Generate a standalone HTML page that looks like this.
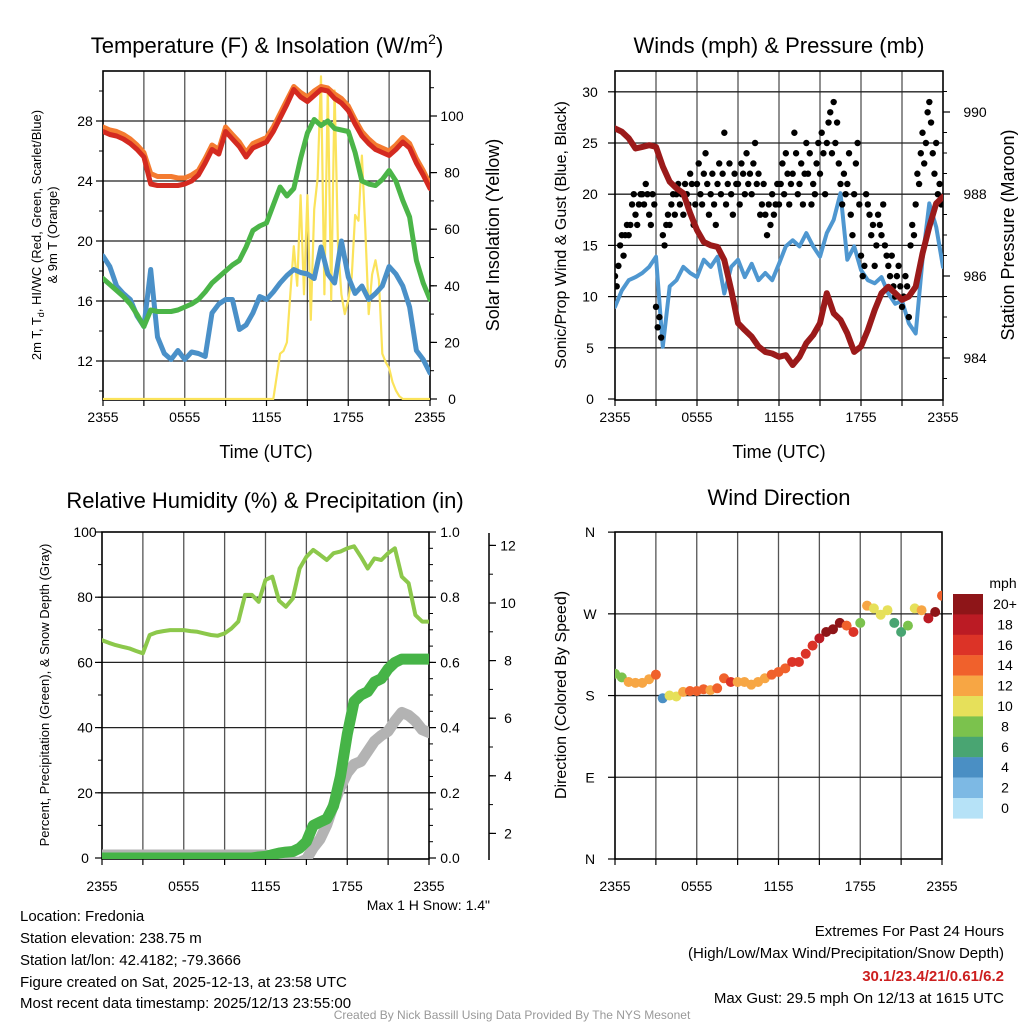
<!DOCTYPE html>
<html><head><meta charset="utf-8"><style>
body{margin:0;background:#fff}
svg{display:block;font-family:"Liberation Sans",Arial,sans-serif}
</style></head><body>
<svg id="fig" width="1024" height="1024" viewBox="0 0 1024 1024" xmlns="http://www.w3.org/2000/svg">
<defs>
<clipPath id="c1"><rect x="103" y="71" width="327" height="329"/></clipPath>
<clipPath id="c2"><rect x="615" y="71" width="328" height="329"/></clipPath>
<clipPath id="c3"><rect x="102" y="532" width="327" height="327"/></clipPath>
<clipPath id="c4"><rect x="615" y="532" width="327" height="327"/></clipPath>
</defs>
<g font-size="22" text-anchor="middle" fill="#000">
<text x="267" y="53">Temperature (F) &amp; Insolation (W/m<tspan font-size="14" dy="-9">2</tspan><tspan dy="9">)</tspan></text>
<text x="779" y="53">Winds (mph) &amp; Pressure (mb)</text>
<text x="265" y="508">Relative Humidity (%) &amp; Precipitation (in)</text>
<text x="779" y="505">Wind Direction</text>
</g>
<g font-size="18" text-anchor="middle">
<text x="266" y="458">Time (UTC)</text>
<text x="779" y="458">Time (UTC)</text>
<text transform="translate(499,235) rotate(-90)">Solar Insolation (Yellow)</text>
<text transform="translate(1014,235) rotate(-90)">Station Pressure (Maroon)</text>
</g>
<g font-size="16" text-anchor="middle">
<text transform="translate(566,235) rotate(-90)">Sonic/Prop Wind &amp; Gust (Blue, Black)</text>
<text transform="translate(566,695) rotate(-90)">Direction (Colored By Speed)</text>
</g>
<g font-size="13" text-anchor="middle">
<text transform="translate(41,235) rotate(-90)">2m T, T<tspan font-size="9" dy="3">d</tspan><tspan dy="-3">, HI/WC (Red, Green, Scarlet/Blue)</tspan></text>
<text transform="translate(57,235) rotate(-90)">&amp; 9m T (Orange)</text>
<text transform="translate(49,695) rotate(-90)">Percent, Precipitation (Green), &amp; Snow Depth (Gray)</text>
</g>
<g id="layer"></g>
<g font-size="15" fill="#000">
<text x="490" y="910" text-anchor="end" font-size="14">Max 1 H Snow: 1.4"</text>
<text x="20" y="921">Location: Fredonia</text>
<text x="20" y="943">Station elevation: 238.75 m</text>
<text x="20" y="965">Station lat/lon: 42.4182; -79.3666</text>
<text x="20" y="987">Figure created on Sat, 2025-12-13, at 23:58 UTC</text>
<text x="20" y="1008">Most recent data timestamp: 2025/12/13 23:55:00</text>
<text x="1004" y="936" text-anchor="end">Extremes For Past 24 Hours</text>
<text x="1004" y="958" text-anchor="end">(High/Low/Max Wind/Precipitation/Snow Depth)</text>
<text x="1004" y="981" text-anchor="end" fill="#cc1f1f" font-weight="bold">30.1/23.4/21/0.61/6.2</text>
<text x="1004" y="1003" text-anchor="end">Max Gust: 29.5 mph On 12/13 at 1615 UTC</text>
<text x="512" y="1019" text-anchor="middle" font-size="12" fill="#999">Created By Nick Bassill Using Data Provided By The NYS Mesonet</text>
</g>
</svg>
<script>
// ---- data (half-hourly unless noted) ----
const xTickLabels = ["2355","0555","1155","1755","2355"];
const tempTicks = [12,16,20,24,28];
const solarTicks = [0,20,40,60,80,100];
const windTicks = [0,5,10,15,20,25,30];
const presTicks = [984,986,988,990];
const pctTicks = [0,20,40,60,80,100];
const precipTicks = ["0.0","0.2","0.4","0.6","0.8","1.0"];
const snowTicks = [2,4,6,8,10,12];
const dirLabels = ["N","E","S","W","N"];
const speedBins = ["20+","18","16","14","12","10","8","6","4","2","0"];
const binColors = ["#8e1518","#bb1b24","#dc3327","#f0612c","#f7a644","#e6e05a","#7bc24d","#49a572","#4a8fc4","#7db9e4","#b6e2f7"];

const temp2m = [27.3,27.1,27.0,26.8,26.5,26.1,25.6,23.8,23.7,23.7,23.7,23.7,23.8,24.0,24.4,25.2,26.1,25.8,27.3,26.8,26.3,25.6,26.2,26.4,26.6,27.3,28.2,29.1,30.1,29.6,29.3,29.7,30.1,30.0,29.5,29.2,28.7,27.8,27.0,26.5,26.1,25.9,25.7,26.1,26.6,26.2,25.2,24.4,23.5];
const temp9m = [27.6,27.4,27.3,27.1,26.8,26.4,25.9,24.5,24.3,24.3,24.3,24.2,24.2,24.4,24.7,25.5,26.4,26.1,27.6,27.1,26.6,25.9,26.5,26.7,26.9,27.6,28.5,29.4,30.3,29.9,29.6,30.0,30.3,30.2,29.8,29.5,29.0,28.1,27.3,26.8,26.4,26.2,26.0,26.4,26.9,26.5,25.5,24.7,23.8];
const dewpt = [17.5,17.1,16.7,16.3,15.8,15.1,14.3,15.4,15.3,15.3,15.3,15.4,15.6,15.8,16.1,16.6,17.2,17.6,18.0,18.4,18.7,19.6,20.7,21.0,21.2,22.4,23.6,23.0,23.5,25.5,27.2,28.1,27.7,28.0,27.5,27.4,27.3,25.9,24.0,23.8,23.7,24.1,24.7,24.0,22.7,21.6,18.7,17.2,16.1];
const windChill = [19.0,18.3,17.0,16.5,16.1,15.0,14.3,18.1,13.6,12.5,12.1,12.7,12.1,12.6,12.5,12.3,15.2,15.8,16.1,16.1,14.1,14.4,15.2,16.3,16.1,16.6,17.2,17.7,18.1,17.9,17.8,17.5,19.6,17.8,17.2,20.0,17.6,16.5,17.0,16.1,16.5,17.0,18.3,17.8,17.0,15.6,12.7,12.1,11.2];
// solar, quarter-hourly from 12.5 h onward (zero before)
const solarStartHour = 12.5;
const solar = [0,8,16,17,20,37,54,40,72,37,72,28,67,78,114,37,110,35,109,54,37,30,35,43,65,63,86,60,30,44,49,42,16,13,11,6,3,1,0];
const windSpd = [9.0,10.6,11.6,11.9,12.3,12.9,13.9,5.1,11.0,11.6,12.9,12.3,11.9,13.6,12.9,13.9,10.3,12.9,13.6,11.9,13.2,11.6,12.3,11.6,13.2,14.9,15.5,14.9,16.2,14.9,13.9,16.2,17.5,20.1,13.6,14.9,12.6,11.6,11.3,11.9,10.3,9.3,9.6,7.4,6.4,13.6,19.1,16.8,12.9];
const pressure = [989.6,989.52,989.36,989.11,989.15,989.19,989.15,988.67,988.3,988.14,988.02,987.53,987.12,986.83,986.75,986.71,986.39,985.66,984.85,984.68,984.52,984.28,984.15,984.11,984.03,984.07,983.83,984.03,984.36,984.56,984.85,985.58,985.09,984.93,984.6,984.15,984.28,984.68,985.17,985.58,985.74,985.58,985.42,985.5,985.74,986.55,987.2,987.77,987.93];
// gusts every 7.5 min
const gusts = [12,11,13,15,16,14,16,17, 16,17,19,20,18,17,19,20, 20,19,21,20,18,17,20,19, 9,7,8,6,16,15,17,18, 17,19,20,18,20,21,19,20, 18,21,20,19,22,21,17,19, 21,23,20,19,22,24,21,18, 20,22,19,17,21,23,20,22, 26,19,21,23,20,18,22,21, 21,19,23,22,20,24,21,22, 20,23,25,21,22,18,19,21, 18,16,19,17,20,18,19,21, 19,21,23,20,24,22,19,21, 22,26,24,20,21,23,19,22, 25,22,24,19,21,20,23,25, 22,26,24,20,25,27,28,24, 29,25,27,23,21,19,22,20, 21,24,18,16,20,23,25,19, 14,12,13,20,19,18,16,17, 13,15,18,17,16,19,15,14, 13,12,14,11,10,12,13,11, 9,10,12,11,8,15,17,16, 19,22,21,24,26,23,25,28, 29,27,24,22,25,20,21,19];
const relHum = [66.8,66.0,65.3,64.8,64.3,63.5,62.8,68.4,69.2,69.6,69.9,69.9,69.9,69.6,69.4,68.9,68.4,68.2,68.9,70.4,72.5,80.7,80.7,78.6,85.3,86.3,78.9,77.1,79.6,88.8,92.4,94.5,93.0,91.4,93.5,94.0,95.0,95.6,92.4,88.8,91.9,91.4,93.5,95.0,86.3,84.3,74.5,72.5,72.5];
const precip = [0,0,0,0,0,0,0,0,0,0,0,0,0,0,0,0,0,0,0,0,0,0,0,0.003,0.005,0.01,0.015,0.018,0.02,0.03,0.05,0.1,0.11,0.12,0.16,0.25,0.38,0.48,0.5,0.51,0.54,0.55,0.58,0.6,0.61,0.61,0.61,0.61,0.61];
const snowDepth = [1.25,1.25,1.25,1.25,1.25,1.25,1.25,1.25,1.25,1.25,1.25,1.25,1.25,1.25,1.25,1.25,1.25,1.25,1.25,1.25,1.25,1.25,1.25,1.25,1.25,1.2,1.2,1.1,1.0,1.0,1.1,1.5,1.8,2.3,3.0,3.6,4.1,4.4,4.5,4.85,5.2,5.4,5.55,5.9,6.2,6.1,5.9,5.6,5.5];
const windDir = [204,200,195,194,194,198,203,177,180,179,184,185,185,187,186,188,199,195,195,195,192,195,199,203,206,210,217,217,226,235,243,250,253,260,257,250,260,279,276,269,274,260,250,257,276,274,265,272,290];
const dirSpeed = [8,9,12,12,12,13,14,5,10,11,13,14,14,15,13,14,14,16,13,12,12,12,12,14,15,14,16,17,16,17,18,20,20,21,15,16,8,12,11,11,10,7,6,8,11,12,18,20,14];

// ---- scales ----
const NS="http://www.w3.org/2000/svg";
const layer=document.getElementById('layer');
function el(tag,attrs,parent){const e=document.createElementNS(NS,tag);for(const k in attrs)e.setAttribute(k,attrs[k]);(parent||layer).appendChild(e);return e;}
function xs(x0,x1){return h=>x0+(x1-x0)*h/24;}
const x1=xs(103,430), x2=xs(615,943), x3=xs(102,429), x4=xs(615,942);
const yT=t=>361-(t-12)*15, yS=s=>399-s*2.83;
const yW=w=>399-w*10.24, yP=p=>358-(p-984)*41;
const yPct=v=>858-v*3.26, yPr=v=>858-v*326, ySn=v=>891-v*28.8;
const yD=d=>859-d*0.908;
function pathOf(vals,xf,yf,step,start){return vals.map((v,i)=>(i?'L':'M')+xf((start||0)+i*step).toFixed(1)+','+yf(v).toFixed(1)).join(' ');}
function binColor(s){let idx=10-Math.min(10,Math.floor(s/2));return binColors[idx];}

function frame(x0,y0,x1_,y1,gridYs,name,labOff){
  const g=el('g',{});
  
  
  for(let k=1;k<8;k++){const x=x0+(x1_-x0)*k/8;el('line',{x1:x,x2:x,y1:y0,y2:y1,stroke:'#555','stroke-width':1.3},g);}
  gridYs.forEach(y=>el('line',{x1:x0,x2:x1_,y1:y,y2:y,stroke:'#222','stroke-width':1.3},g));
  const r=el('rect',{x:x0,y:y0,width:x1_-x0,height:y1-y0,fill:'none',stroke:'#000','stroke-width':1.6});
  
  
  for(let k=0;k<=8;k++){const x=x0+(x1_-x0)*k/8;el('line',{x1:x,x2:x,y1:y1,y2:y1+6,stroke:'#000','stroke-width':1.2});}
  xTickLabels.forEach((t,k)=>{const tx=el('text',{x:x0+(x1_-x0)*k/4,y:y1+labOff,'font-size':14,'text-anchor':'middle'});tx.textContent=t;
    
    });
}
function yTicks(vals,labels,yf,x,side,minorStep,minorRange,lx,anchor){
  const dir=side==='left'?-1:1;
  if(minorStep){for(let v=minorRange[0];v<=minorRange[1]+1e-9;v+=minorStep){el('line',{x1:x,x2:x+dir*4,y1:yf(v),y2:yf(v),stroke:'#000','stroke-width':1});}}
  vals.forEach((v,i)=>{el('line',{x1:x,x2:x+dir*7,y1:yf(v),y2:yf(v),stroke:'#000','stroke-width':1.2});
    const t=el('text',{x:lx,y:yf(v)+5,'font-size':14,'text-anchor':anchor});t.textContent=labels[i];
    
    });
}

// Panel 1
frame(103,71,430,400,tempTicks.map(yT),'temperature',22);
yTicks(tempTicks,tempTicks,yT,103,'left',2,[10,30],85,'middle');
yTicks(solarTicks,solarTicks,yS,430,'right',10,[0,110],452,'middle');
const g1=el('g',{'clip-path':'url(#c1)',fill:'none','stroke-linejoin':'round','stroke-linecap':'round'});


let sp=el('path',{d:'M'+x1(0)+','+yS(0)+' L'+x1(solarStartHour)+','+yS(0)+' '+pathOf(solar,x1,yS,0.25,solarStartHour).replace('M','L')+' L'+x1(24)+','+yS(0),stroke:'#fbe35b','stroke-width':2.2},g1);


let p;
p=el('path',{d:pathOf(windChill,x1,yT,0.5),stroke:'#4a90c8','stroke-width':5},g1);


p=el('path',{d:pathOf(dewpt,x1,yT,0.5),stroke:'#4bb548','stroke-width':5},g1);


p=el('path',{d:pathOf(temp9m,x1,yT,0.5),stroke:'#f47b30','stroke-width':5},g1);


p=el('path',{d:pathOf(temp2m,x1,yT,0.5),stroke:'#d42a20','stroke-width':5},g1);



// Panel 2
frame(615,71,943,400,windTicks.slice(1).map(yW),'winds',22);
yTicks(windTicks,windTicks,yW,615,'left',null,null,590,'middle');
yTicks(presTicks,presTicks,yP,943,'right',0.5,[983.5,990.5],975,'middle');
const g2=el('g',{'clip-path':'url(#c2)','stroke-linejoin':'round','stroke-linecap':'round'});


p=el('path',{d:pathOf(windSpd,x2,yW,0.5),stroke:'#4f97d0','stroke-width':4,fill:'none'},g2);


gusts.forEach((g,i)=>{const c=el('circle',{cx:x2(i/8),cy:yW(g),r:3.2,fill:'#000'},g2);
  
  });
p=el('path',{d:pathOf(pressure,x2,yP,0.5),stroke:'#9b1a1a','stroke-width':6,fill:'none'},g2);



// Panel 3
frame(102,532,429,859,[20,40,60,80].map(yPct),'humidity',32);
yTicks(pctTicks,pctTicks,yPct,102,'left',10,[0,100],85,'middle');
yTicks([0,0.2,0.4,0.6,0.8,1.0],precipTicks,yPr,429,'right',0.05,[0,1],450,'middle');
el('line',{x1:489,x2:489,y1:533,y2:860,stroke:'#000','stroke-width':1.5});
yTicks(snowTicks,snowTicks,ySn,489,'right',1,[2,12],508,'middle');
const g3=el('g',{'clip-path':'url(#c3)',fill:'none','stroke-linejoin':'round','stroke-linecap':'round'});


p=el('path',{d:pathOf(relHum,x3,yPct,0.5),stroke:'#8cc84b','stroke-width':4},g3);


p=el('path',{d:pathOf(snowDepth,x3,ySn,0.5),stroke:'#b3b3b3','stroke-width':11},g3);


p=el('path',{d:pathOf(precip,x3,yPr,0.5),stroke:'#46b447','stroke-width':11},g3);



// Panel 4
frame(615,532,942,859,[90,180,270].map(yD),'direction',32);
[0,90,180,270,360].forEach((d,i)=>{el('line',{x1:615,x2:608,y1:yD(d),y2:yD(d),stroke:'#000','stroke-width':1.2});
  const t=el('text',{x:590,y:yD(d)+5,'font-size':14,'text-anchor':'middle'});t.textContent=dirLabels[i];
  
  });
el('line',{x1:942,x2:952,y1:yD(270),y2:yD(270),stroke:'#000','stroke-width':1.2});
const g4=el('g',{'clip-path':'url(#c4)'});


windDir.forEach((d,i)=>{const c=el('circle',{cx:x4(i*0.5),cy:yD(d),r:5,fill:binColor(dirSpeed[i])},g4);
  
  });
// colorbar
const cb=el('g',{});


const mph=el('text',{x:1003,y:588,'font-size':14,'text-anchor':'middle'},cb);mph.textContent='mph';
speedBins.forEach((lab,i)=>{const y=594+i*20.4;el('rect',{x:953,y:y,width:30,height:20.6,fill:binColors[i]},cb);
  const t=el('text',{x:1005,y:y+15,'font-size':14,'text-anchor':'middle'},cb);t.textContent=lab;
  
  });
</script>
</body></html>
